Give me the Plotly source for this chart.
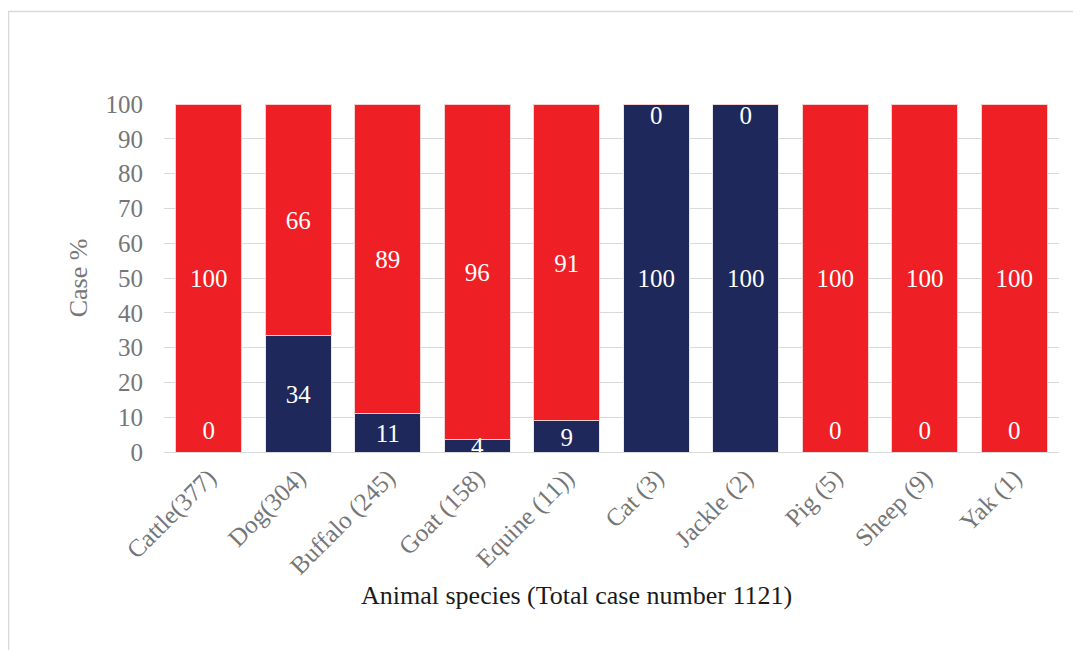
import plotly.graph_objects as go

categories = ["Cattle(377)", "Dog(304)", "Buffalo (245)", "Goat (158)", "Equine (11))",
              "Cat (3)", "Jackle (2)", "Pig (5)", "Sheep (9)", "Yak (1)"]
navy_vals = [0, 33.5, 11, 3.6, 9, 100, 100, 0, 0, 0]
red_vals = [100, 66.5, 89, 96.4, 91, 0, 0, 100, 100, 100]
navy_labels = ["0", "34", "11", "4", "9", "100", "100", "0", "0", "0"]
red_labels = ["100", "66", "89", "96", "91", "0", "0", "100", "100", "100"]

NAVY = "#1F285B"
RED = "#EE1F25"
FONT = "Liberation Serif"
SHIFT = 0.9  # text baseline correction (axis units)

fig = go.Figure()
fig.add_trace(go.Bar(x=categories, y=navy_vals, marker=dict(color=NAVY, line=dict(color="#E8E8EE", width=1)),
                     hoverinfo="skip"))
fig.add_trace(go.Bar(x=categories, y=red_vals, marker=dict(color=RED, line=dict(color="#F4D0D0", width=1)),
                     hoverinfo="skip"))

# label positions computed from data
navy_y = [v / 2 - SHIFT if v > 0 else 5.5 for v in navy_vals]
navy_y = [1.0 if (0 < v < 5) else y for v, y in zip(navy_vals, navy_y)]
red_y = [n + r / 2 - SHIFT if r > 0 else 96.0 for n, r in zip(navy_vals, red_vals)]

fig.add_trace(go.Scatter(x=categories, y=navy_y, mode="text", text=navy_labels,
                         textfont=dict(family=FONT, size=25, color="white"), cliponaxis=True, hoverinfo="skip"))
fig.add_trace(go.Scatter(x=categories, y=red_y, mode="text", text=red_labels,
                         textfont=dict(family=FONT, size=25, color="white"), cliponaxis=True, hoverinfo="skip"))

L, R, T, B = 156, 30, 96, 206
PW, PH = 1081 - L - R, 650 - T - B

fig.update_layout(
    barmode="stack",
    bargap=0.26,
    width=1081, height=650,
    margin=dict(l=L, r=R, t=T, b=B),
    paper_bgcolor="white", plot_bgcolor="white",
    showlegend=False,
    font=dict(family=FONT, color="#767676"),
    xaxis=dict(tickangle=-45, tickfont=dict(size=25, color="#767676"), showline=True, linecolor="#D9D9D9",
               linewidth=1.3, ticks="", showgrid=False),
    yaxis=dict(range=[0, 100], dtick=10, tickfont=dict(size=25, color="#767676"), showgrid=True,
               gridcolor="#D9D9D9", gridwidth=1.3, zeroline=False, ticks="", ticklabelstandoff=20,
               title=dict(text="Case %", font=dict(size=26, color="#767676"), standoff=10)),
    annotations=[dict(text="Animal species (Total case number 1121)", xref="paper", yref="paper",
                      x=(568 - L) / PW, y=-(587 - 96 - PH) / PH, xanchor="center", yanchor="middle",
                      showarrow=False, font=dict(family=FONT, size=26, color="#1a1a1a"))],
    shapes=[dict(type="rect", xref="paper", yref="paper",
                 x0=(0.5 - L) / PW, x1=(1300 - L) / PW,
                 y0=(B - 800) / PH, y1=(650 - 3.5 - B) / PH,
                 line=dict(color="#D9D9D9", width=1.5), layer="below")],
)

fig.write_html("out.html")
